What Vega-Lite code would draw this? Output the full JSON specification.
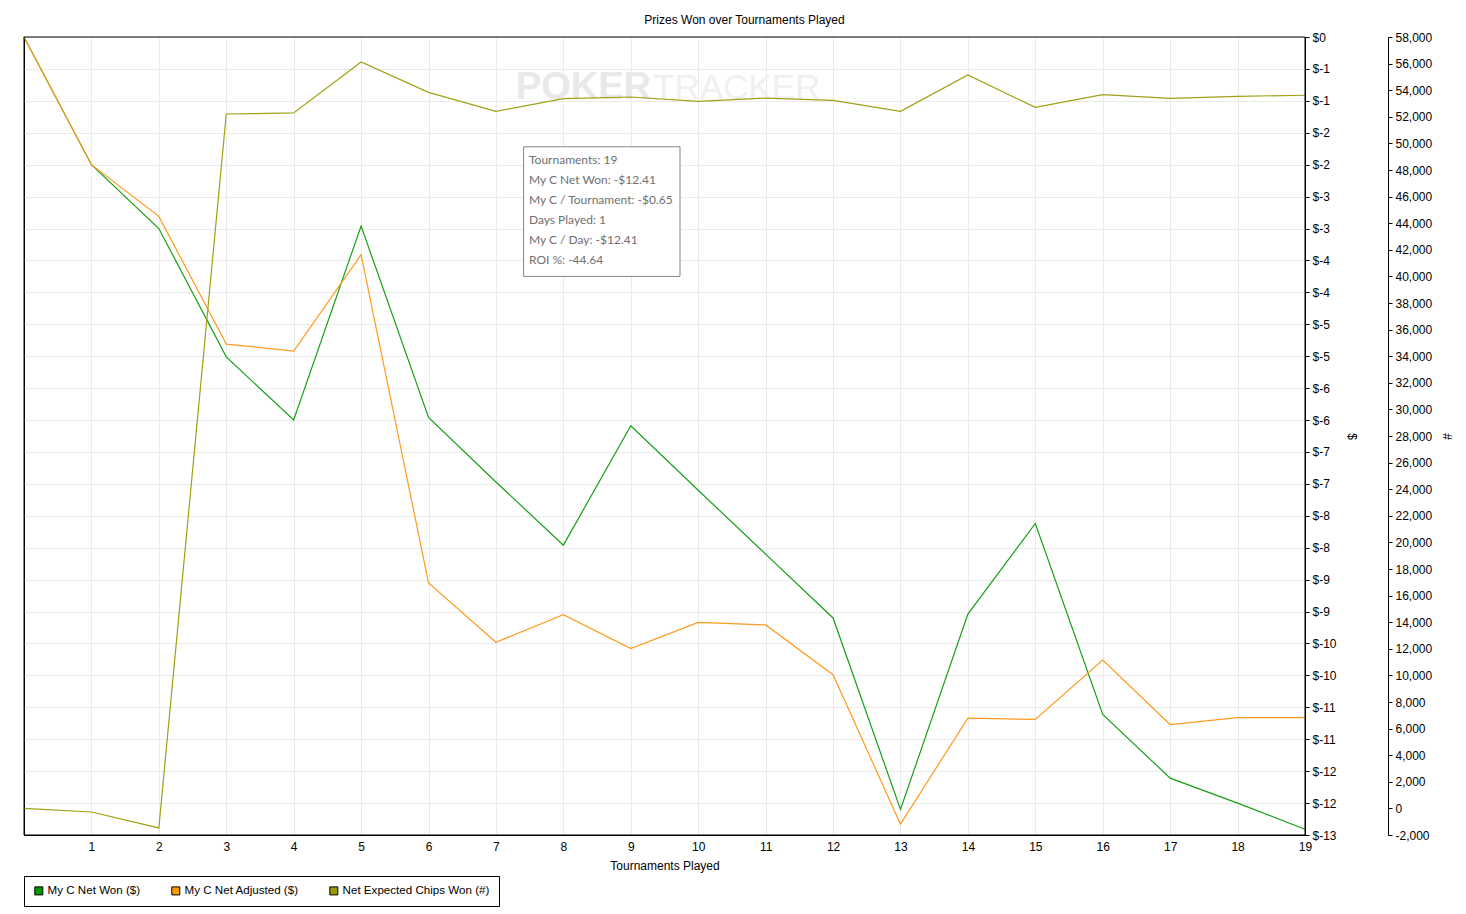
{
  "$schema": "https://vega.github.io/schema/vega-lite/v6.json",
  "description": "Prizes Won over Tournaments Played",
  "width": 1281,
  "height": 798,
  "autosize": "none",
  "padding": {"left": 24, "top": 37, "right": 161, "bottom": 79},
  "background": "white",
  "config": {
    "font": "Liberation Sans",
    "view": {"stroke": "black", "strokeWidth": 1},
    "axis": {
      "labelFont": "Liberation Sans",
      "labelFontSize": 12,
      "labelColor": "black",
      "titleFont": "Liberation Sans",
      "titleFontSize": 12,
      "titleFontWeight": "normal",
      "titleColor": "black",
      "gridColor": "#ebebeb",
      "gridWidth": 1,
      "tickColor": "black",
      "domainColor": "black"
    }
  },
  "title": {
    "text": "Prizes Won over Tournaments Played",
    "frame": "group",
    "anchor": "middle",
    "dx": 80,
    "offset": 4,
    "font": "Liberation Sans",
    "fontSize": 12,
    "fontWeight": "normal",
    "color": "black"
  },
  "datasets": {
    "games": [
      {"t": 0, "My C Net Won ($)": 0, "My C Net Adjusted ($)": 0, "Net Expected Chips Won (#)": 0},
      {"t": 1, "My C Net Won ($)": -2.0, "My C Net Adjusted ($)": -2.0, "Net Expected Chips Won (#)": -270},
      {"t": 2, "My C Net Won ($)": -3.0, "My C Net Adjusted ($)": -2.81, "Net Expected Chips Won (#)": -1470},
      {"t": 3, "My C Net Won ($)": -5.01, "My C Net Adjusted ($)": -4.81, "Net Expected Chips Won (#)": 52210},
      {"t": 4, "My C Net Won ($)": -6.0, "My C Net Adjusted ($)": -4.92, "Net Expected Chips Won (#)": 52290},
      {"t": 5, "My C Net Won ($)": -2.96, "My C Net Adjusted ($)": -3.41, "Net Expected Chips Won (#)": 56120},
      {"t": 6, "My C Net Won ($)": -5.96, "My C Net Adjusted ($)": -8.55, "Net Expected Chips Won (#)": 53840},
      {"t": 7, "My C Net Won ($)": -6.97, "My C Net Adjusted ($)": -9.48, "Net Expected Chips Won (#)": 52410},
      {"t": 8, "My C Net Won ($)": -7.96, "My C Net Adjusted ($)": -9.05, "Net Expected Chips Won (#)": 53360},
      {"t": 9, "My C Net Won ($)": -6.09, "My C Net Adjusted ($)": -9.58, "Net Expected Chips Won (#)": 53490},
      {"t": 10, "My C Net Won ($)": -7.10, "My C Net Adjusted ($)": -9.17, "Net Expected Chips Won (#)": 53160},
      {"t": 11, "My C Net Won ($)": -8.10, "My C Net Adjusted ($)": -9.21, "Net Expected Chips Won (#)": 53410},
      {"t": 12, "My C Net Won ($)": -9.10, "My C Net Adjusted ($)": -9.99, "Net Expected Chips Won (#)": 53240},
      {"t": 13, "My C Net Won ($)": -12.10, "My C Net Adjusted ($)": -12.33, "Net Expected Chips Won (#)": 52410},
      {"t": 14, "My C Net Won ($)": -9.04, "My C Net Adjusted ($)": -10.67, "Net Expected Chips Won (#)": 55140},
      {"t": 15, "My C Net Won ($)": -7.62, "My C Net Adjusted ($)": -10.69, "Net Expected Chips Won (#)": 52710},
      {"t": 16, "My C Net Won ($)": -10.61, "My C Net Adjusted ($)": -9.76, "Net Expected Chips Won (#)": 53660},
      {"t": 17, "My C Net Won ($)": -11.61, "My C Net Adjusted ($)": -10.77, "Net Expected Chips Won (#)": 53390},
      {"t": 18, "My C Net Won ($)": -12.0, "My C Net Adjusted ($)": -10.66, "Net Expected Chips Won (#)": 53540},
      {"t": 19, "My C Net Won ($)": -12.41, "My C Net Adjusted ($)": -10.66, "Net Expected Chips Won (#)": 53620}
    ],
    "tip": [
      {"text": "Tournaments: 19\nMy C Net Won: -$12.41\nMy C / Tournament: -$0.65\nDays Played: 1\nMy C / Day: -$12.41\nROI %: -44.64"}
    ]
  },
  "layer": [
    {
      "data": {"values": [{"word": "POKER"}]},
      "mark": {"type": "text", "align": "right", "baseline": "middle", "font": "Liberation Sans", "fontSize": 38, "fontWeight": "bold", "color": "#e9e9e9"},
      "encoding": {
        "x": {"datum": 9.3, "type": "quantitative", "scale": {"domain": [0, 19], "nice": false}},
        "y": {"datum": -0.8, "type": "quantitative", "scale": {"domain": [-12.5, 0], "nice": false, "zero": false}, "axis": null},
        "text": {"field": "word"}
      }
    },
    {
      "data": {"values": [{"word": "TRACKER"}]},
      "mark": {"type": "text", "align": "left", "baseline": "middle", "font": "Liberation Sans", "fontSize": 35, "color": "#f0f0f0"},
      "encoding": {
        "x": {"datum": 9.33, "type": "quantitative", "scale": {"domain": [0, 19], "nice": false}},
        "y": {"datum": -0.8, "type": "quantitative", "scale": {"domain": [-12.5, 0], "nice": false, "zero": false}, "axis": null},
        "text": {"field": "word"}
      }
    },
    {
      "data": {"name": "games"},
      "transform": [{"fold": ["My C Net Won ($)", "My C Net Adjusted ($)"], "as": ["series", "value"]}],
      "mark": {"type": "line", "strokeWidth": 1.2},
      "encoding": {
        "x": {
          "field": "t",
          "type": "quantitative",
          "scale": {"domain": [0, 19], "nice": false},
          "axis": {
            "orient": "bottom",
            "title": "Tournaments Played",
            "values": [1, 2, 3, 4, 5, 6, 7, 8, 9, 10, 11, 12, 13, 14, 15, 16, 17, 18, 19],
            "format": "d",
            "labelFlush": false,
            "ticks": false,
            "labelPadding": 6,
            "titlePadding": 8,
            "domain": true,
            "grid": true
          }
        },
        "y": {
          "field": "value",
          "type": "quantitative",
          "scale": {"domain": [-12.5, 0], "nice": false, "zero": false},
          "axis": {
            "orient": "right",
            "title": "$",
            "values": [0, -0.5, -1, -1.5, -2, -2.5, -3, -3.5, -4, -4.5, -5, -5.5, -6, -6.5, -7, -7.5, -8, -8.5, -9, -9.5, -10, -10.5, -11, -11.5, -12, -12.5],
            "labelExpr": "datum.value == 0 ? '$0' : '$-' + round(abs(datum.value))",
            "tickSize": 4,
            "labelPadding": 3,
            "titlePadding": 8,
            "grid": true,
            "domain": true
          }
        },
        "color": {
          "field": "series",
          "type": "nominal",
          "scale": {"range": ["#ff9a1f", "#16a016", "#a0a014"]},
          "legend": null
        }
      }
    },
    {
      "data": {"name": "games"},
      "transform": [{"fold": ["Net Expected Chips Won (#)"], "as": ["series", "value"]}],
      "mark": {"type": "line", "strokeWidth": 1.2},
      "encoding": {
        "x": {"field": "t", "type": "quantitative", "scale": {"domain": [0, 19], "nice": false}},
        "y": {
          "field": "value",
          "type": "quantitative",
          "scale": {"domain": [-2000, 58000], "nice": false, "zero": false},
          "axis": {
            "orient": "right",
            "offset": 83,
            "title": "#",
            "values": [-2000, 0, 2000, 4000, 6000, 8000, 10000, 12000, 14000, 16000, 18000, 20000, 22000, 24000, 26000, 28000, 30000, 32000, 34000, 36000, 38000, 40000, 42000, 44000, 46000, 48000, 50000, 52000, 54000, 56000, 58000],
            "labelExpr": "(datum.value < 0 ? '-' : '') + format(abs(datum.value), ',')",
            "tickSize": 4,
            "labelPadding": 3,
            "titlePadding": 8,
            "grid": false,
            "domain": true
          }
        },
        "color": {
          "field": "series",
          "type": "nominal",
          "scale": {"range": ["#ff9a1f", "#16a016", "#a0a014"]},
          "legend": null
        }
      }
    },
    {
      "data": {"name": "games"},
      "transform": [{"fold": ["My C Net Won ($)", "My C Net Adjusted ($)", "Net Expected Chips Won (#)"], "as": ["series", "value"]}],
      "mark": {"type": "point", "shape": "square", "filled": true, "size": 0, "stroke": "black", "strokeWidth": 0},
      "encoding": {
        "x": {"field": "t", "type": "quantitative", "scale": {"domain": [0, 19], "nice": false}},
        "y": {"datum": 0, "type": "quantitative", "scale": {"domain": [-12.5, 0], "nice": false, "zero": false}, "axis": null},
        "fill": {
          "field": "series",
          "type": "nominal",
          "scale": {
            "domain": ["My C Net Won ($)", "My C Net Adjusted ($)", "Net Expected Chips Won (#)"],
            "range": ["#009900", "#ff9900", "#999900"]
          },
          "legend": {
            "title": null,
            "orient": "none",
            "legendX": 0,
            "legendY": 839,
            "direction": "horizontal",
            "strokeColor": "black",
            "padding": 9,
            "columnPadding": 28,
            "symbolType": "square",
            "symbolSize": 64,
            "symbolOpacity": 1,
            "symbolStrokeWidth": 1,
            "labelFont": "Liberation Sans",
            "labelFontSize": 11.6,
            "labelColor": "black",
            "labelOffset": 3,
            "encode": {
              "symbols": {
                "update": {
                  "stroke": {"value": "black"},
                  "strokeWidth": {"value": 1},
                  "opacity": {"value": 1}
                }
              }
            }
          }
        }
      }
    },
    {
      "data": {"name": "tip"},
      "mark": {"type": "rect", "fill": "white", "stroke": "#858585", "strokeWidth": 1},
      "encoding": {
        "x": {"datum": 7.41, "type": "quantitative", "scale": {"domain": [0, 19], "nice": false}},
        "x2": {"datum": 9.73},
        "y": {"datum": -1.72, "type": "quantitative", "scale": {"domain": [-12.5, 0], "nice": false, "zero": false}, "axis": null},
        "y2": {"datum": -3.75}
      }
    },
    {
      "data": {"name": "tip"},
      "mark": {"type": "text", "align": "left", "baseline": "middle", "lineBreak": "\n", "lineHeight": 20, "font": "Lato", "fontSize": 12, "color": "#707070"},
      "encoding": {
        "x": {"datum": 7.49, "type": "quantitative", "scale": {"domain": [0, 19], "nice": false}},
        "y": {"datum": -1.922, "type": "quantitative", "scale": {"domain": [-12.5, 0], "nice": false, "zero": false}, "axis": null},
        "text": {"field": "text"}
      }
    },
    {
      "data": {"name": "tip"},
      "mark": {"type": "rect", "fill": null, "stroke": "black", "strokeWidth": 1},
      "encoding": {
        "x": {"datum": 0, "type": "quantitative", "scale": {"domain": [0, 19], "nice": false}},
        "x2": {"datum": 19},
        "y": {"datum": 0, "type": "quantitative", "scale": {"domain": [-12.5, 0], "nice": false, "zero": false}, "axis": null},
        "y2": {"datum": -12.5}
      }
    }
  ],
  "resolve": {"scale": {"y": "independent"}, "axis": {"y": "independent"}}
}
